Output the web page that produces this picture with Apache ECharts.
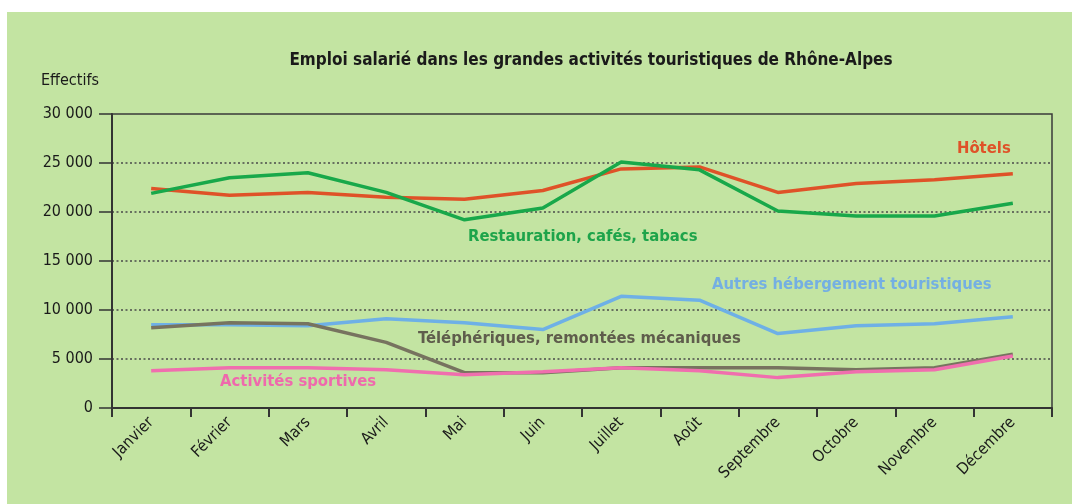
<!DOCTYPE html>
<html>
<head>
<meta charset="utf-8">
<script src="https://cdn.jsdelivr.net/npm/echarts@6/dist/echarts.min.js"></script>
<style>
  html, body { margin: 0; padding: 0; background: #fff; }
  #chart { width: 1072px; height: 504px; }
</style>
</head>
<body>
<div id="chart"></div>
<script>
// données
var mois = ['Janvier', 'Février', 'Mars', 'Avril', 'Mai', 'Juin', 'Juillet', 'Août', 'Septembre', 'Octobre', 'Novembre', 'Décembre'];
var hotels = [22400, 21700, 22000, 21500, 21300, 22200, 24400, 24600, 22000, 22900, 23300, 23900];
var restauration = [21900, 23500, 24000, 22000, 19200, 20400, 25100, 24300, 20100, 19600, 19600, 20900];
var autresHeberg = [8500, 8500, 8400, 9100, 8700, 8000, 11400, 11000, 7600, 8400, 8600, 9300];
var telepheriques = [8200, 8700, 8600, 6700, 3600, 3600, 4100, 4100, 4100, 3900, 4100, 5500];
var sportives = [3800, 4100, 4100, 3900, 3400, 3700, 4100, 3800, 3100, 3700, 3900, 5300];
var yTicks = [0, 5000, 10000, 15000, 20000, 25000, 30000];

var police = "'Liberation Sans Narrow', 'DejaVu Sans Condensed', sans-serif";

function ligne(nom, data, couleur) {
    return {
        name: nom,
        type: 'line',
        data: data,
        symbol: 'none',
        smooth: false,
        lineStyle: { color: couleur, width: 3.5 },
        z: 3
    };
}

function etiquette(x, y, texte, couleur) {
    return {
        type: 'text',
        left: x,
        top: y,
        z: 10,
        style: {
            text: texte,
            fill: couleur,
            font: 'bold 16.5px ' + police
        }
    };
}

var dom = document.getElementById('chart');
var myChart = echarts.init(dom);
var option = {
    backgroundColor: '#ffffff',
    animation: false,
    title: {
        text: 'Emploi salarié dans les grandes activités touristiques de Rhône-Alpes',
        left: 586,
        textAlign: 'center',
        top: 47,
        textStyle: { fontFamily: police, fontSize: 17, fontWeight: 'bold', color: '#1a1a1a' }
    },
    grid: {
        left: 112,
        top: 114,
        right: 20,
        bottom: 96,
        show: true,
        borderColor: '#3a3a3a',
        borderWidth: 1.5,
        backgroundColor: 'transparent'
    },
    graphic: [
        {
            type: 'rect',
            z: -100,
            silent: true,
            shape: { x: 7, y: 12, width: 1072, height: 504 },
            style: { fill: '#c3e4a2' }
        },
        {
            type: 'text',
            left: 41,
            top: 73,
            style: { text: 'Effectifs', fill: '#1a1a1a', font: '16px ' + police }
        },
        etiquette(957, 140, 'Hôtels', '#df5228'),
        etiquette(468, 228, 'Restauration, cafés, tabacs', '#1ea44a'),
        etiquette(712, 276, 'Autres hébergement touristiques', '#74afe2'),
        etiquette(418, 330, 'Téléphériques, remontées mécaniques', '#5f5d4c'),
        etiquette(220, 373, 'Activités sportives', '#ef69ad')
    ],
    xAxis: {
        type: 'category',
        data: mois,
        boundaryGap: true,
        axisLine: { lineStyle: { color: '#333', width: 2 } },
        axisTick: { show: true, length: 9, lineStyle: { color: '#333', width: 2 } },
        axisLabel: {
            rotate: 45,
            margin: 12,
            fontFamily: police,
            fontSize: 16,
            color: '#1a1a1a'
        },
        splitLine: { show: false }
    },
    yAxis: {
        type: 'value',
        min: yTicks[0],
        max: yTicks[yTicks.length - 1],
        interval: 5000,
        axisLine: { show: true, lineStyle: { color: '#333', width: 2 } },
        axisTick: { show: true, length: 13, lineStyle: { color: '#333', width: 1.5 } },
        axisLabel: {
            margin: 19,
            fontFamily: police,
            fontSize: 16,
            color: '#1a1a1a',
            formatter: function (v) {
                var s = String(v);
                if (v >= 1000) {
                    s = s.slice(0, s.length - 3) + ' ' + s.slice(s.length - 3);
                }
                return s;
            }
        },
        splitLine: {
            show: true,
            showMinLine: false,
            showMaxLine: false,
            lineStyle: { color: '#4a4a4a', type: [2, 2.5], width: 1.5 }
        }
    },
    series: [
        ligne('Hôtels', hotels, '#df5228'),
        ligne('Restauration, cafés, tabacs', restauration, '#18a84a'),
        ligne('Autres hébergement touristiques', autresHeberg, '#6eb0e6'),
        ligne('Téléphériques, remontées mécaniques', telepheriques, '#77735f'),
        ligne('Activités sportives', sportives, '#f06eae')
    ]
};

if (option && typeof option === 'object') {
    myChart.setOption(option, true);
}
</script>
</body>
</html>
